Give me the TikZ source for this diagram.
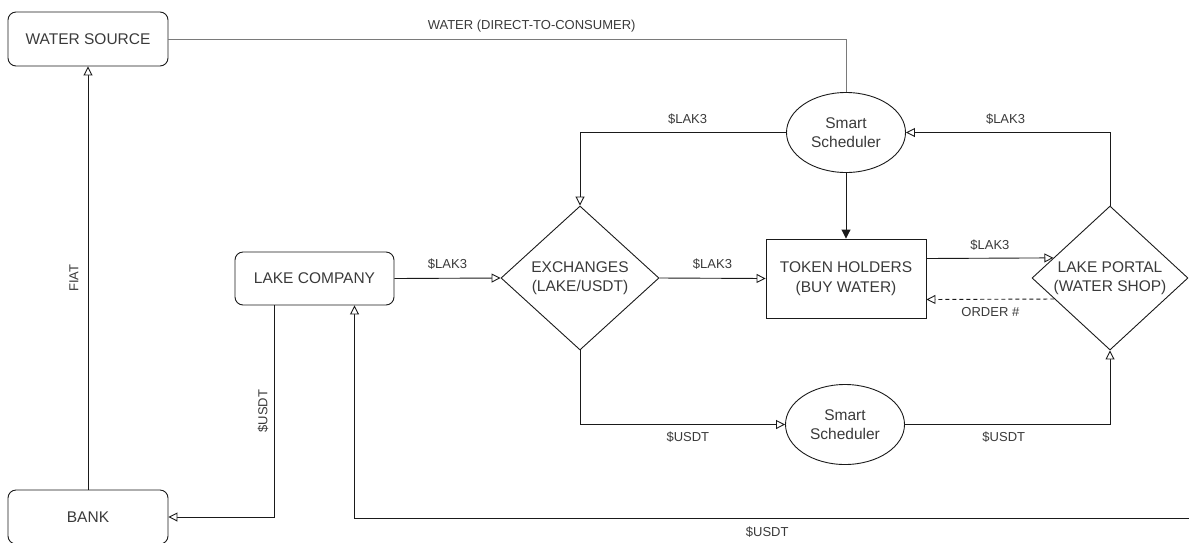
\documentclass[tikz,border=0pt]{standalone}
\usepackage{fontspec}
\setmainfont{Liberation Sans}
\usetikzlibrary{shapes.geometric,arrows.meta,calc}
\definecolor{txt}{HTML}{3A3A3A}
\definecolor{wgrey}{HTML}{7A7A7A}
\definecolor{ln}{HTML}{1A1A1A}
\begin{document}
\begin{tikzpicture}[x=1pt,y=-1pt,
  nodefont/.style={font=\fontsize{15.5}{19.5}\selectfont, text=txt, align=center},
  lbl/.style={font=\fontsize{13}{15}\selectfont, text=txt, inner sep=0pt},
  rbox/.style={draw=ln, line width=0.9pt, rounded corners=8pt, minimum width=160pt, minimum height=54pt, inner sep=0pt, nodefont},
  sbox/.style={draw=ln, line width=0.9pt, minimum width=160pt, minimum height=79pt, inner sep=0pt, nodefont},
  ell/.style={draw=ln, ellipse, line width=0.9pt, minimum width=119pt, minimum height=80pt, inner sep=0pt, nodefont},
  dia/.style={draw=ln, diamond, line width=0.9pt, inner sep=0pt},
  conn/.style={line width=0.9pt, draw=ln},
  oarrow/.style={conn, -{Triangle[open, length=9pt, width=9pt, fill=white]}},
  farrow/.style={conn, -{Triangle[length=9pt, width=9pt]}},
  wline/.style={line width=0.7pt, draw=wgrey}
]
\useasboundingbox (0,0) rectangle (1189,542);

% nodes
\node[rbox] (ws) at (88,39) {WATER SOURCE};
\node[rbox] (bank) at (88,517) {BANK};
\node[rbox, minimum width=159pt, minimum height=53pt] (lc) at (314.5,278.5) {LAKE COMPANY};
\node[sbox] (th) at (846,278.5) {TOKEN HOLDERS\\(BUY WATER)};
\node[dia, minimum width=158pt, minimum height=144pt,
      label={[nodefont]center:{EXCHANGES\\(LAKE/USDT)}}] (ex) at (580,278) {};
\node[dia, minimum width=156pt, minimum height=144pt,
      label={[nodefont]center:{LAKE PORTAL\\(WATER SHOP)}}] (lp) at (1110,278) {};
\node[ell] (ss1) at (846,132.5) {Smart\\Scheduler};
\node[ell] (ss2) at (845,424.5) {Smart\\Scheduler};
\coordinate (re) at (1189,518);

% connectors
\draw[wline] (ws.east) -| node[lbl, pos=0.268, yshift=13pt] {WATER (DIRECT-TO-CONSUMER)} (ss1.north);
\draw[oarrow] (bank.north) -- node[lbl, midway, xshift=-14pt, rotate=90] {FIAT} (ws.south);
\draw[oarrow] ([xshift=-40.5pt]lc.south) |- node[lbl, pos=0.25, xshift=-11pt, rotate=90] {\$USDT} (bank.east);
\draw[oarrow] (re) -| node[lbl, pos=0.2527, yshift=-14pt] {\$USDT} ([xshift=40pt]lc.south);
\draw[oarrow] (lc.east) -- node[lbl, midway, yshift=14pt] {\$LAK3} (ex.west);
\draw[oarrow] (ex.east) -- node[lbl, midway, yshift=14pt] {\$LAK3} (th.west);
\draw[oarrow] (ss1.west) -| node[lbl, pos=0.239, yshift=13pt] {\$LAK3} (ex.north);
\draw[oarrow] (lp.north) |- node[lbl, pos=0.756, yshift=13pt] {\$LAK3} (ss1.east);
\draw[farrow] (ss1.south) -- (th.north);
\draw[oarrow] ([yshift=20pt]th.east) -- node[lbl, midway, yshift=13pt] {\$LAK3} ($(lp.west)!0.2778!(lp.north)$);
\draw[oarrow, dash pattern=on 4pt off 3pt] ($(lp.west)!0.29!(lp.south)$) -- node[lbl, midway, yshift=-13pt] {ORDER \#} ([yshift=-21pt]th.east);
\draw[oarrow] (ex.south) |- node[lbl, pos=0.763, yshift=-13pt] {\$USDT} (ss2.west);
\draw[oarrow] (ss2.east) -| node[lbl, pos=0.241, yshift=-13pt] {\$USDT} (lp.south);
\end{tikzpicture}
\end{document}
